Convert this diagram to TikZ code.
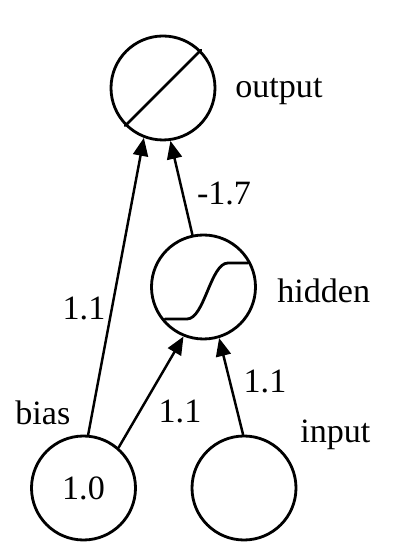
\documentclass[tikz,border=0pt]{standalone}
\usepackage{fontspec}
\setmainfont{Liberation Serif}
\usetikzlibrary{arrows.meta}

\begin{document}
\begin{tikzpicture}[>={Triangle[length=0.36cm,width=0.3cm]},line cap=round,
  font=\fontsize{19.4}{22}\selectfont,
  unit/.style={circle,draw,line width=1.6pt,minimum size=2.08cm,inner sep=0pt},
  wire/.style={->,line width=1.4pt},
  tag/.style={anchor=base west,inner sep=0pt},
  weight/.style={anchor=base,inner sep=0pt}]
\useasboundingbox (0,0) rectangle (8,11.12);
% units
\node[unit] (output) at (3.26,9.36) {};
\node[unit] (hidden) at (4.07,5.38) {};
\node[unit] (bias) at (1.67,1.36) {1.0};
\node[unit] (input) at (4.88,1.36) {};
% transfer functions
\draw[line width=1.6pt] (output.225) -- (output.45);
\begin{scope}[shift={(hidden.center)}]
\draw[line width=1.6pt] (-0.77,-0.64) -- (-0.33,-0.64)
  .. controls (0.02,-0.64) and (0.14,0.48) .. (0.49,0.48) -- (0.89,0.48);
\end{scope}
% names
\node[tag] (outname) at (4.70,9.16) {output};
\node[tag] (hidname) at (5.54,5.06) {hidden};
\node[tag] (biasname) at (0.30,2.62) {bias};
\node[tag] (inname) at (6.00,2.26) {input};
% connections
\draw[wire] (bias.85) -- (output.249);
\draw[wire] (hidden.102) -- (output.278);
\draw[wire] (bias.49) -- (hidden.248);
\draw[wire] (input.91) -- (hidden.287);
% weights
\node[weight] (w1) at (1.68,4.72) {1.1};
\node[weight] (w2) at (4.48,7.02) {-1.7};
\node[weight] (w3) at (3.60,2.66) {1.1};
\node[weight] (w4) at (5.30,3.26) {1.1};
\end{tikzpicture}
\end{document}
